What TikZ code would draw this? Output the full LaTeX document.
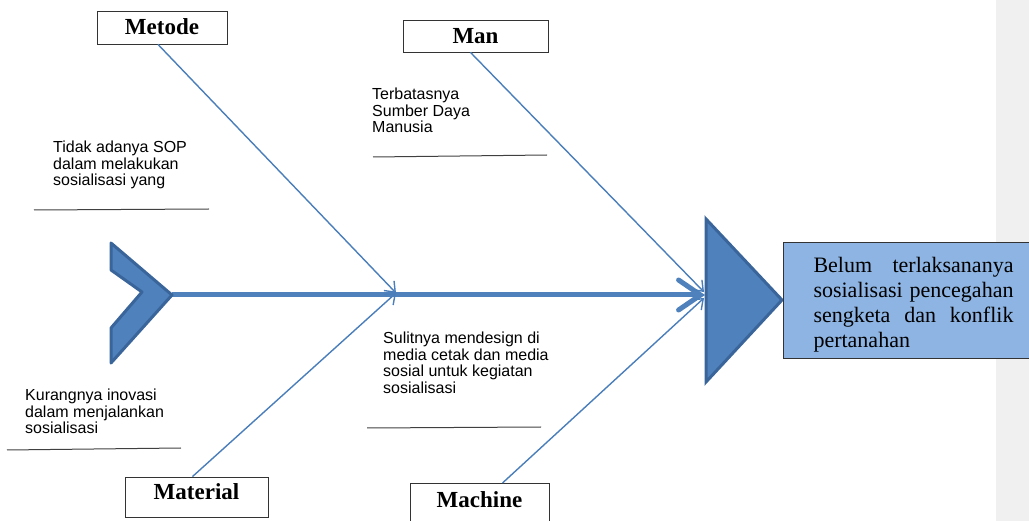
\documentclass[tikz,border=0pt]{standalone}
\usepackage{fontspec}
\setmainfont{Liberation Serif}
\newfontfamily\sansf{Liberation Sans}
\usetikzlibrary{arrows.meta}
\definecolor{bone}{HTML}{4A7EBB}
\definecolor{shapefill}{HTML}{4F81BD}
\definecolor{shapeedge}{HTML}{3A659A}
\definecolor{effectfill}{HTML}{8DB4E2}
\definecolor{band}{HTML}{F0F0F0}
\begin{document}
\begin{tikzpicture}[x=1pt,y=-1pt,
  catbox/.style={draw=black!80, line width=0.9pt, fill=white, inner sep=0pt,
    font=\fontsize{23}{25}\selectfont\bfseries, text height=16pt},
  bonel/.style={draw=bone, line width=1.4pt, -{Straight Barb[length=9pt,width=14pt]}},
  cause/.style={font=\sansf\fontsize{16}{16.5}\selectfont, align=left, inner sep=0pt, anchor=north west},
  underl/.style={draw=black!75, line width=1pt},
  shapestyle/.style={fill=shapefill, draw=shapeedge, line width=3pt}
]
\useasboundingbox (0,0) rectangle (1029,521);
\fill[band] (996,0) rectangle (1029,521);

% coordinates
\coordinate (tail) at (172,295);
\coordinate (j1) at (396,293);
\coordinate (j2) at (705,295);
\coordinate (j2a) at (704,292);
\coordinate (j2b) at (704,298);

% category boxes
\node[catbox, minimum width=130, minimum height=33, text depth=1pt] (metode) at (162,27.5) {Metode};
\node[catbox, minimum width=145, minimum height=32, text depth=0pt] (man) at (475.5,36) {Man};
\node[catbox, minimum width=143, minimum height=40, text depth=10pt] (material) at (196.5,497) {Material};
\node[catbox, minimum width=139, minimum height=46, text depth=14pt, anchor=north] (machine) at (479.5,483) {Machine};

% spine
\draw[draw=shapefill, line width=5pt, -{Straight Barb[length=22pt,width=30pt,line cap=round]}] (tail) -- (j2);

% bones
\draw[bonel] ([xshift=-4pt]metode.south) -- (j1);
\draw[bonel] ([xshift=-4pt]material.north) -- (j1);
\draw[bonel] ([xshift=-5pt]man.south) -- (j2a);
\draw[bonel] ([xshift=23pt]machine.north) -- (j2b);

% tail chevron and head
\draw[shapestyle, line join=round] (111,243) -- (tail) -- (111,363) -- (111,328) -- (142,292) -- (111,270) -- cycle;
\draw[shapestyle] (706,219) -- (782,300) -- (706,382) -- cycle;

% effect
\node[draw=black!80, line width=1pt, fill=effectfill, anchor=north west, minimum height=116,
  inner xsep=30pt, inner ysep=0pt, text width=200pt, align=left,
  font=\fontsize{22}{25}\selectfont] (effect) at (783,242)
  {\rule{0pt}{24pt}\makebox[200pt][l]{Belum\hfill terlaksananya}\\
   \makebox[200pt][l]{sosialisasi\hfill pencegahan}\\
   \makebox[200pt][l]{sengketa\hfill dan\hfill konflik}\\
   pertanahan};

% causes
\node[cause] (c1) at (53,141) {Tidak adanya SOP\\dalam melakukan\\sosialisasi yang};
\draw[underl] (34,210) -- (209,209);
\node[cause] (c2) at (372,88) {Terbatasnya\\Sumber Daya\\Manusia};
\draw[underl] (373,157) -- (547,155);
\node[cause] (c3) at (383,332) {Sulitnya mendesign di\\media cetak dan media\\sosial untuk kegiatan\\sosialisasi};
\draw[underl] (367,428) -- (541,427);
\node[cause] (c4) at (25,389) {Kurangnya inovasi\\dalam menjalankan\\sosialisasi};
\draw[underl] (7,450) -- (181,448);
\end{tikzpicture}
\end{document}
